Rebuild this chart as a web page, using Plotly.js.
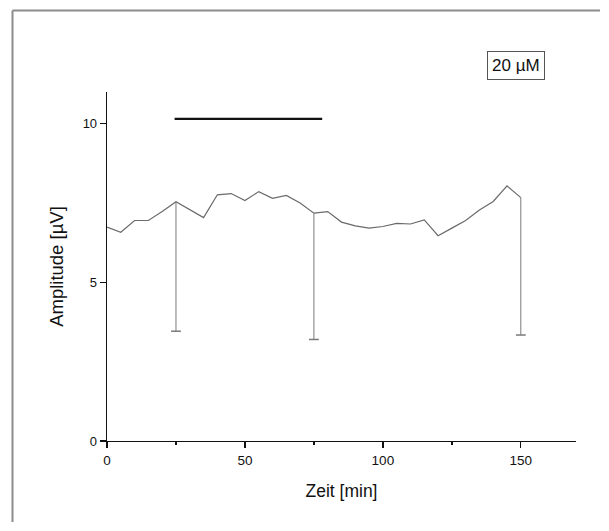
<!DOCTYPE html>
<html>
<head>
<meta charset="utf-8">
<script src="https://cdn.plot.ly/plotly-3.0.1.min.js"></script>
<style>
html,body{margin:0;padding:0;background:#fff;}
#chart{width:609px;height:531px;}
</style>
</head>
<body>
<div id="chart"></div>
<script>
// Data
const timeMin = [0,5,10,15,20,25,35,40,45,50,55,60,65,70,75,80,85,90,95,100,105,110,115,120,125,130,135,140,145,150];
const amplitude = [6.74,6.58,6.95,6.95,7.23,7.54,7.04,7.76,7.80,7.58,7.86,7.65,7.74,7.50,7.18,7.23,6.90,6.78,6.71,6.76,6.86,6.84,6.97,6.47,6.71,6.95,7.28,7.55,8.04,7.67];
const errTimes = [25,75,150];
const errMinus = [4.08,3.98,4.33];
const barStart = 24.5, barEnd = 78, barLevel = 10.15;
const concLabel = "20 µM";
const xTickVals = [0,50,100,150];
const xMinorVals = [25,75,125];
const yTickVals = [0,5,10];

// build error-bar segments from data
const errX = [], errY = [], capX = [], capY = [];
errTimes.forEach((t, i) => {
  const idx = timeMin.indexOf(t);
  const top = amplitude[idx];
  const bottom = top - errMinus[i];
  errX.push(t, t, null);
  errY.push(top, bottom, null);
  capX.push(t);
  capY.push(bottom);
});

const font = "Arial, 'Liberation Sans', sans-serif";

const traces = [
  {x: errX, y: errY, mode: 'lines', line: {color: '#7a7a7a', width: 1}, hoverinfo: 'skip', showlegend: false},
  {x: capX, y: capY, mode: 'markers', marker: {symbol: 'line-ew', size: 7, line: {color: '#7a7a7a', width: 1.5}}, hoverinfo: 'skip', showlegend: false},
  {x: timeMin, y: amplitude, mode: 'lines', line: {color: '#6a6a6a', width: 1.2}, showlegend: false},
  {x: [barStart, barEnd], y: [barLevel, barLevel], mode: 'lines', line: {color: '#111', width: 2.2}, showlegend: false}
];

// pixel helpers for frame (paper coords)
const L = 107, R = 33, T = 92, B = 90, W = 609, H = 531;
const pw = W - L - R, ph = H - T - B;
const px = v => (v - L) / pw;
const py = v => (H - B - v) / ph;

const layout = {
  width: W, height: H,
  margin: {l: L, r: R, t: T, b: B, pad: 0},
  paper_bgcolor: '#fff', plot_bgcolor: '#fff',
  font: {family: font, color: '#000'},
  showlegend: false,
  xaxis: {
    range: [0, 170], showgrid: false, zeroline: false,
    showline: true, linecolor: '#111', linewidth: 1.3,
    tickmode: 'array', tickvals: xTickVals,
    ticks: 'outside', ticklen: 6, tickwidth: 1.3, tickcolor: '#111',
    minor: {tickmode: 'array', tickvals: xMinorVals, ticks: 'outside', ticklen: 3, tickwidth: 1.3, tickcolor: '#111'},
    tickfont: {size: 13.5, family: font, color: '#111'},
    title: {text: 'Zeit [min]', font: {size: 17.5, family: font, color: '#111'}, standoff: 18}
  },
  yaxis: {
    range: [0, 11], showgrid: false, zeroline: false,
    showline: true, linecolor: '#111', linewidth: 1.3,
    tickmode: 'array', tickvals: yTickVals,
    ticks: 'outside', ticklen: 6, tickwidth: 1.3, tickcolor: '#111',
    tickfont: {size: 13, family: font, color: '#111'},
    title: {text: 'Amplitude [µV]', font: {size: 18.5, family: font, color: '#111'}, standoff: 14}
  },
  annotations: [{
    text: concLabel, xref: 'paper', yref: 'paper',
    x: px(516), y: py(65.5), xanchor: 'center', yanchor: 'middle',
    showarrow: false, font: {size: 17, family: font, color: '#111'},
    bordercolor: '#555', borderwidth: 1, borderpad: 4, bgcolor: '#fff'
  }],
  shapes: [
    {type: 'line', xref: 'paper', yref: 'paper', x0: px(12.5), x1: px(12.5), y0: py(10.5), y1: py(522), line: {color: '#8c8c8c', width: 2}},
    {type: 'line', xref: 'paper', yref: 'paper', x0: px(12.5), x1: px(600), y0: py(10.5), y1: py(10.5), line: {color: '#8c8c8c', width: 2}}
  ]
};

Plotly.newPlot('chart', traces, layout, {displayModeBar: false, staticPlot: true});
</script>
</body>
</html>
